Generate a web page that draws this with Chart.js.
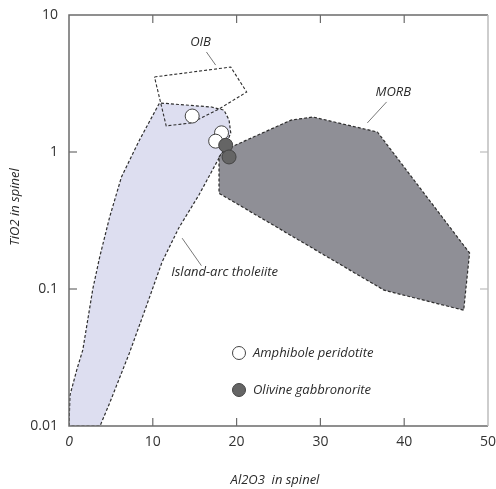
<!DOCTYPE html>
<html>
<head>
<meta charset="utf-8">
<script src="https://cdn.jsdelivr.net/npm/chart.js@4.4.1/dist/chart.umd.min.js"></script>
<style>
  html, body { margin: 0; padding: 0; background: #fff; }
  #wrap { width: 496px; height: 489px; }
</style>
</head>
<body>
<div id="wrap"><canvas id="spinelChart"></canvas></div>
<script>
// axis ticks
var xTicks = [0, 10, 20, 30, 40, 50];
var yTicks = [0.01, 0.1, 1, 10];
var yTickLabels = ["0.01", "0.1", "1", "10"];

// fields (Al2O3, TiO2 in spinel)
var islandArcAl = [0, 0.12, 0.95, 1.65, 2.84, 3.66, 4.85, 6.26, 8.4, 10.8, 17.0, 18.5, 19.1, 19.3, 18.6, 17.9, 15.5, 13.1, 11.1, 9.2, 7.2, 4.85, 3.7, 0];
var islandArcTi = [0.01, 0.0168, 0.026, 0.036, 0.1, 0.171, 0.335, 0.657, 1.22, 2.28, 2.13, 2.02, 1.71, 1.38, 1.07, 0.904, 0.485, 0.279, 0.157, 0.074, 0.034, 0.0147, 0.01, 0.01];

var morbAl = [17.9, 18.5, 26.5, 29.1, 36.8, 47.8, 47.1, 37.6, 17.9, 17.9];
var morbTi = [0.92, 1.03, 1.71, 1.80, 1.40, 0.183, 0.070, 0.098, 0.50, 0.92];

var oibAl = [10.2, 19.3, 21.2, 17.9, 14.6, 11.6, 10.2];
var oibTi = [3.53, 4.17, 2.74, 2.06, 1.63, 1.55, 3.53];

// samples
var amphPeridotiteAl = [14.7, 18.2, 17.5];
var amphPeridotiteTi = [1.83, 1.38, 1.20];
var olGabbronoriteAl = [18.7, 19.1];
var olGabbronoriteTi = [1.12, 0.92];

function pts(xs, ys) {
    return xs.map(function (x, i) { return { x: x, y: ys[i] }; });
}

var FONT = '"Open Sans", "DejaVu Sans", sans-serif';

var decorPlugin = {
    id: 'decor',
    afterDraw: function (chart) {
        var c = chart.ctx, a = chart.chartArea;
        var xs = chart.scales.x, ys = chart.scales.y;
        c.save();
        // frame
        c.lineWidth = 1.5;
        c.strokeStyle = '#6b6b6b';
        c.beginPath();
        c.moveTo(a.right, a.top); c.lineTo(a.left, a.top); c.lineTo(a.left, a.bottom); c.lineTo(a.right, a.bottom);
        c.stroke();
        c.strokeStyle = '#bdbdbd';
        c.beginPath(); c.moveTo(a.right, a.top); c.lineTo(a.right, a.bottom); c.stroke();
        // inner ticks
        c.lineWidth = 1.2;
        c.strokeStyle = '#6b6b6b';
        xTicks.slice(1, -1).forEach(function (v) {
            var px = xs.getPixelForValue(v);
            c.beginPath(); c.moveTo(px, a.bottom); c.lineTo(px, a.bottom - 8); c.stroke();
            c.beginPath(); c.moveTo(px, a.top); c.lineTo(px, a.top + 8); c.stroke();
        });
        yTicks.slice(1, -1).forEach(function (v) {
            var py = ys.getPixelForValue(v);
            c.beginPath(); c.moveTo(a.left, py); c.lineTo(a.left + 8, py); c.stroke();
            c.strokeStyle = '#bdbdbd';
            c.beginPath(); c.moveTo(a.right, py); c.lineTo(a.right - 8, py); c.stroke();
            c.strokeStyle = '#6b6b6b';
        });

        // field labels with leader lines
        c.fillStyle = '#2b2b2b';
        c.strokeStyle = '#555';
        c.lineWidth = 0.8;
        c.font = 'italic 13px ' + FONT;
        c.textBaseline = 'middle';
        function leader(x1, y1, x2, y2) {
            c.beginPath();
            c.moveTo(xs.getPixelForValue(x1), ys.getPixelForValue(y1));
            c.lineTo(xs.getPixelForValue(x2), ys.getPixelForValue(y2));
            c.stroke();
        }
        c.textAlign = 'center';
        c.fillText('OIB', xs.getPixelForValue(15.7), ys.getPixelForValue(6.35));
        leader(16.4, 5.37, 17.5, 4.31);
        c.fillText('MORB', xs.getPixelForValue(38.7), ys.getPixelForValue(2.74));
        leader(37.9, 2.32, 35.6, 1.63);
        c.textAlign = 'left';
        c.fillText('Island-arc tholeiite', xs.getPixelForValue(12.2), ys.getPixelForValue(0.133));
        leader(13.5, 0.235, 15.8, 0.148);

        // legend
        var lx = a.left + 170, ly1 = a.top + 338, ly2 = a.top + 375;
        c.lineWidth = 1;
        c.strokeStyle = '#444';
        c.beginPath(); c.arc(lx, ly1, 6.5, 0, Math.PI * 2);
        c.fillStyle = '#fff'; c.fill(); c.stroke();
        c.beginPath(); c.arc(lx, ly2, 6.5, 0, Math.PI * 2);
        c.fillStyle = '#656565'; c.fill(); c.stroke();
        c.fillStyle = '#2b2b2b';
        c.fillText('Amphibole peridotite', lx + 14, ly1);
        c.fillText('Olivine gabbronorite', lx + 14, ly2);

        // axis titles
        c.textAlign = 'center';
        c.fillText('Al2O3  in spinel', 275, 480);
        c.translate(15, 207);
        c.rotate(-Math.PI / 2);
        c.fillText('TiO2 in spinel', 0, 0);
        c.restore();
    }
};

var dashed = { borderColor: '#2e2e2e', borderWidth: 1.2, borderDash: [3, 2], pointRadius: 0, tension: 0, fill: 'shape' };

var ctx = document.getElementById('spinelChart').getContext('2d');
var spinelChart = new Chart(ctx, {
    type: 'scatter',
    data: {
        datasets: [{
            label: 'Olivine gabbronorite',
            data: pts(olGabbronoriteAl, olGabbronoriteTi),
            pointRadius: 7,
            backgroundColor: '#656565',
            borderColor: '#444',
            borderWidth: 1,
            order: 0
        }, {
            label: 'Amphibole peridotite',
            data: pts(amphPeridotiteAl, amphPeridotiteTi),
            pointRadius: 7,
            backgroundColor: '#fff',
            borderColor: '#444',
            borderWidth: 1,
            order: 1
        }, {
            type: 'line',
            label: 'OIB',
            data: pts(oibAl, oibTi),
            fill: false,
            borderColor: '#2e2e2e',
            borderWidth: 1.1,
            borderDash: [3, 2],
            pointRadius: 0,
            tension: 0,
            order: 2
        }, Object.assign({
            type: 'line',
            label: 'MORB',
            data: pts(morbAl, morbTi),
            backgroundColor: '#8f8f96',
            order: 3
        }, dashed), Object.assign({
            type: 'line',
            label: 'Island-arc tholeiite',
            data: pts(islandArcAl, islandArcTi),
            backgroundColor: '#dddef0',
            order: 4
        }, dashed)]
    },
    options: {
        responsive: true,
        maintainAspectRatio: false,
        animation: false,
        events: [],
        layout: { padding: { top: 15, right: 4, left: 0, bottom: 0 } },
        plugins: { legend: { display: false }, tooltip: { enabled: false } },
        scales: {
            x: {
                type: 'linear',
                min: 0,
                max: 50,
                grid: { display: false, drawTicks: false },
                border: { display: false },
                afterBuildTicks: function (s) { s.ticks = xTicks.map(function (v) { return { value: v }; }); },
                afterFit: function (s) { s.height = 63; s.paddingLeft = 0; s.paddingRight = 0; },
                ticks: {
                    padding: 8,
                    maxRotation: 0,
                    color: '#333',
                    font: function (c) {
                        return c.tick && c.tick.value === 0
                            ? { family: FONT, size: 14, style: 'italic' }
                            : { family: FONT, size: 14 };
                    }
                }
            },
            y: {
                type: 'logarithmic',
                min: 0.01,
                max: 10,
                grid: { display: false, drawTicks: false },
                border: { display: false },
                afterBuildTicks: function (s) { s.ticks = yTicks.map(function (v) { return { value: v }; }); },
                afterFit: function (s) { s.width = 69; s.paddingTop = 0; s.paddingBottom = 0; },
                ticks: {
                    padding: 11,
                    color: '#333',
                    font: { family: FONT, size: 14 },
                    callback: function (v) { var i = yTicks.indexOf(v); return i >= 0 ? yTickLabels[i] : ''; }
                }
            }
        }
    },
    plugins: [decorPlugin]
});
</script>
</body>
</html>
